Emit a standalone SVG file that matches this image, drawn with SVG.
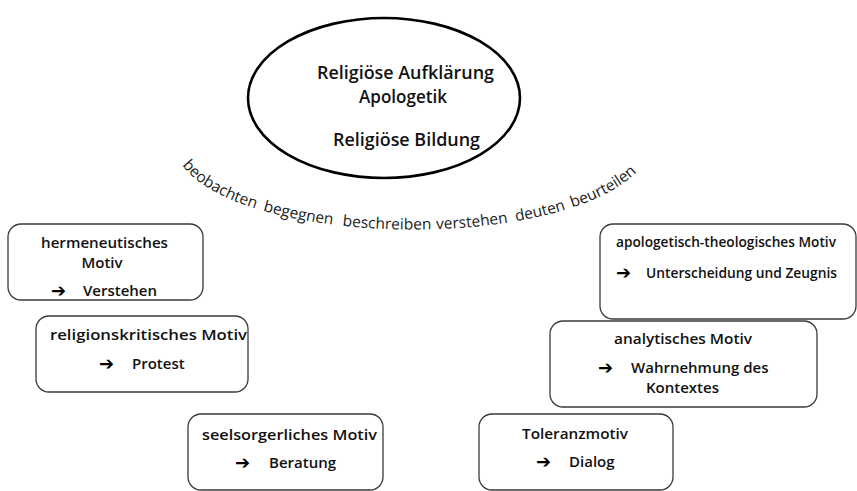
<svg xmlns="http://www.w3.org/2000/svg" width="857" height="491" viewBox="0 0 857 491">
<defs>
<style>
.box{fill:#fff;stroke:#3a3a3a;stroke-width:1.3}
.t{font-family:"Open Sans",sans-serif;font-size:15px;font-weight:600;fill:#111;text-anchor:middle}
.tl{font-family:"Open Sans",sans-serif;font-size:15px;font-weight:600;fill:#111}
.ar{font-family:"DejaVu Sans",sans-serif;font-size:18px;font-weight:bold;fill:#000}
.e{font-family:"Open Sans",sans-serif;font-size:18px;fill:#111;text-anchor:middle;font-weight:600}
.arc{font-family:"Open Sans",sans-serif;font-size:15.5px;fill:#222}
</style>
<path id="arcPath" d="M180,162 C237,252 605,256 653,150" fill="none"/>
</defs>
<g id="center">
<ellipse cx="384" cy="98" rx="136" ry="80" fill="#fff" stroke="#000" stroke-width="2.6"/>
<text class="e" x="405.5" y="79" textLength="177" lengthAdjust="spacingAndGlyphs">Religiöse Aufklärung</text>
<text class="e" x="403" y="103" textLength="88" lengthAdjust="spacingAndGlyphs">Apologetik</text>
<text class="e" x="406.5" y="146" textLength="147" lengthAdjust="spacingAndGlyphs">Religiöse Bildung</text>
</g>
<g id="arc-words">
<text class="arc"><textPath href="#arcPath" startOffset="4">beobachten</textPath></text>
<text class="arc"><textPath href="#arcPath" startOffset="98">begegnen</textPath></text>
<text class="arc"><textPath href="#arcPath" startOffset="179">beschreiben</textPath></text>
<text class="arc"><textPath href="#arcPath" startOffset="273">verstehen</textPath></text>
<text class="arc"><textPath href="#arcPath" startOffset="353">deuten</textPath></text>
<text class="arc"><textPath href="#arcPath" startOffset="411">beurteilen</textPath></text>
</g>
<g id="connectors"></g>
<g id="hermeneutisch">
<rect class="box" x="8" y="224" width="195" height="76" rx="13"/>
<text class="t" x="104.5" y="248" textLength="127" lengthAdjust="spacingAndGlyphs">hermeneutisches</text>
<text class="t" x="102" y="268">Motiv</text>
<text class="ar" x="51" y="297">➔</text>
<text class="tl" x="83" y="296">Verstehen</text>
</g>
<g id="religionskritisch">
<rect class="box" x="36" y="316" width="212" height="76" rx="13"/>
<text class="t" x="148.5" y="340" textLength="197" lengthAdjust="spacingAndGlyphs">religionskritisches Motiv</text>
<text class="ar" x="99" y="370">➔</text>
<text class="tl" x="132" y="369">Protest</text>
</g>
<g id="seelsorgerlich">
<rect class="box" x="188" y="414" width="195" height="76" rx="13"/>
<text class="t" x="289.5" y="440" textLength="175" lengthAdjust="spacingAndGlyphs">seelsorgerliches Motiv</text>
<text class="ar" x="235" y="469">➔</text>
<text class="tl" x="269" y="468">Beratung</text>
</g>
<g id="toleranz">
<rect class="box" x="479" y="414" width="194" height="76" rx="13"/>
<text class="t" x="575" y="439" textLength="106" lengthAdjust="spacingAndGlyphs">Toleranzmotiv</text>
<text class="ar" x="536" y="468">➔</text>
<text class="tl" x="569" y="467">Dialog</text>
</g>
<g id="analytisch">
<rect class="box" x="550" y="321" width="267" height="86" rx="13"/>
<text class="t" x="683" y="344" textLength="138" lengthAdjust="spacingAndGlyphs">analytisches Motiv</text>
<text class="ar" x="598" y="374">➔</text>
<text class="tl" x="631" y="373">Wahrnehmung des</text>
<text class="tl" x="646" y="393">Kontextes</text>
</g>
<g id="apologetisch">
<rect class="box" x="600" y="224" width="256" height="95" rx="13"/>
<text class="t" x="726" y="247" textLength="220" lengthAdjust="spacingAndGlyphs">apologetisch-theologisches Motiv</text>
<text class="ar" x="616" y="279">➔</text>
<text class="tl" x="646" y="278" textLength="191" lengthAdjust="spacingAndGlyphs">Unterscheidung und Zeugnis</text>
</g>
</svg>
